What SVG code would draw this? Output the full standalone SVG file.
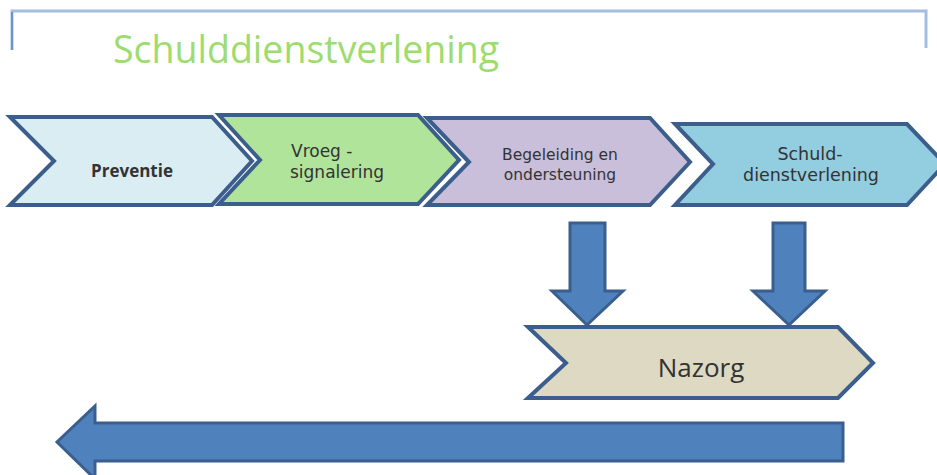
<svg xmlns="http://www.w3.org/2000/svg" width="937" height="475" viewBox="0 0 937 475">
<style>
.chev{stroke:#3b5e8c;stroke-width:4;stroke-linejoin:miter}
.arr{fill:#4f81bd;stroke:#3a5f8f;stroke-width:3}
.t{font-family:"Open Sans","DejaVu Sans",sans-serif;fill:#333;text-anchor:middle}
.s{font-family:"DejaVu Sans",sans-serif;fill:#333;text-anchor:middle}
</style>
<rect width="937" height="475" fill="#fff"/>
<g id="bracket" fill="none">
<path d="M12 50 V11 H926 V48" stroke="#a4bde0" stroke-width="3"/>
<path d="M12 50 V12" stroke="#6f93c8" stroke-width="2"/>
</g>
<g id="title"><text x="113" y="63" font-family="Open Sans, DejaVu Sans, sans-serif" font-size="37.5" fill="#9ddc6e">Schulddienstverlening</text></g>
<g id="preventie">
<polygon class="chev" fill="#daedf3" points="10,117 212,117 252,161 212,205 10,205 54,161"/>
<text class="t" x="132" y="177" font-size="17" font-weight="bold" fill="#222">Preventie</text>
</g>
<g id="vroegsignalering">
<polygon class="chev" fill="#b0e49a" points="219,115 418,115 459,160 418,204 219,204 260,160"/>
<text class="s" x="291" y="157" font-size="17" style="text-anchor:start">Vroeg -</text>
<text class="s" x="290" y="178" font-size="17" style="text-anchor:start">signalering</text>
</g>
<g id="begeleiding">
<polygon class="chev" fill="#c9bfdb" points="427,118 650,118 690,162 650,205 427,205 469,162"/>
<text class="s" x="560" y="160" font-size="15.5">Begeleiding en</text>
<text class="s" x="560" y="180" font-size="15.5">ondersteuning</text>
</g>
<g id="schuld">
<polygon class="chev" fill="#92cde0" points="675,124 907,124 945,164 907,205 675,205 713,164"/>
<text class="s" x="810" y="160" font-size="17.5">Schuld-</text>
<text class="s" x="811" y="181" font-size="17.5">dienstverlening</text>
</g>
<g id="nazorg">
<polygon class="chev" fill="#ddd9c3" points="528,327 838,327 873,363 838,398 528,398 566,363"/>
<text class="t" x="701" y="377" font-size="26" fill="#1a1a1a">Nazorg</text>
</g>
<g id="connectors">
<polygon class="arr" points="570,223 605,223 605,291 623,291 587,325 552,291 570,291"/>
<polygon class="arr" points="773,223 805,223 805,291 825,291 789,325 753,291 773,291"/>
<polygon class="arr" points="843,423 843,461 95,461 95,479 57,442 95,406 95,423"/>
</g>
</svg>
